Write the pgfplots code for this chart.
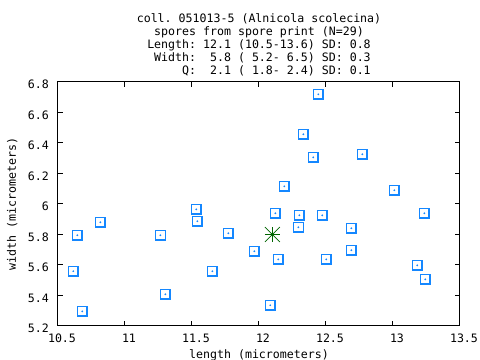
\documentclass[border=0pt]{standalone}
\usepackage{fontspec}
\setmainfont{DejaVu Sans Mono}
\setmonofont{DejaVu Sans Mono}
\usepackage{pgfplots}
\usepackage{pgfplotstable}
\pgfplotsset{compat=1.18}
\frenchspacing
\definecolor{ptblue}{RGB}{20,135,255}
\definecolor{stargreen}{RGB}{0,100,0}
\newcommand{\tf}{\fontsize{8.7}{9.75}\selectfont}
\pgfplotstableread{
x y
10.644 5.795
10.614 5.559
10.681 5.296
10.816 5.880
11.264 5.795
11.301 5.408
11.532 5.965
11.540 5.887
11.652 5.559
11.771 5.808
11.965 5.690
12.084 5.336
12.122 5.939
12.144 5.637
12.301 5.926
12.294 5.847
12.472 5.926
12.502 5.637
12.689 5.841
12.689 5.697
13.234 5.939
13.181 5.598
13.241 5.506
12.443 6.719
12.331 6.457
12.405 6.306
12.771 6.326
12.189 6.116
13.010 6.090
}\spores
\begin{document}
\begin{tikzpicture}
\path[use as bounding box] (0,0) rectangle (360pt,270pt);
\node[anchor=base, font=\tf, inner sep=0pt] at (194.25pt,253.125pt) {coll.~051013-5~(Alnicola~scolecina)};
\node[anchor=base, font=\tf, inner sep=0pt] at (194.25pt,243.375pt) {spores~from~spore~print~(N=29)};
\node[anchor=base, font=\tf, inner sep=0pt] at (194.25pt,233.625pt) {Length:~12.1~(10.5-13.6)~SD:~0.8};
\node[anchor=base, font=\tf, inner sep=0pt] at (194.25pt,223.875pt) {~Width:~~5.8~(~5.2-~6.5)~SD:~0.3};
\node[anchor=base, font=\tf, inner sep=0pt] at (194.25pt,214.125pt) {~~~~~Q:~~2.1~(~1.8-~2.4)~SD:~0.1};
\begin{axis}[
  at={(43.5pt,25.5pt)}, anchor=south west, scale only axis,
  width=301.5pt, height=183pt,
  xmin=10.5, xmax=13.5, ymin=5.2, ymax=6.8,
  xtick={10.5,11,11.5,12,12.5,13,13.5},
  ytick={5.2,5.4,5.6,5.8,6,6.2,6.4,6.6,6.8},
  tick align=inside, major tick length=3.5pt,
  axis line style={line width=0.75pt},
  tick style={line width=0.75pt, black},
  /pgf/number format/assume math mode=true,
  ticklabel style={font=\tf},
  xticklabel style={yshift=-2.3pt, xshift=3pt},
  yticklabel style={xshift=-3.4pt, yshift=-2pt},
  xlabel={length (micrometers)},
  ylabel={width (micrometers)},
  label style={font=\tf},
  xlabel style={at={(axis description cs:0.5,0)}, anchor=base, yshift=-24.3pt},
  ylabel style={at={([xshift=-31.5pt]axis description cs:0,0.5)}, anchor=base},
  clip=false,
]
\addplot[only marks, mark=square, mark size=3.6pt, ptblue, mark options={line width=1pt}] table {\spores};
\addplot[only marks, mark=*, mark size=0.45pt, ptblue] table {\spores};
\addplot[only marks, mark=+, mark size=5.6pt, stargreen, mark options={line width=0.75pt}] coordinates {(12.1,5.8)};
\addplot[only marks, mark=x, mark size=7.9pt, stargreen, mark options={line width=0.6pt}] coordinates {(12.1,5.8)};
\addplot[only marks, mark=*, mark size=1.1pt, stargreen] coordinates {(12.1,5.8)};
\end{axis}
\end{tikzpicture}
\end{document}
